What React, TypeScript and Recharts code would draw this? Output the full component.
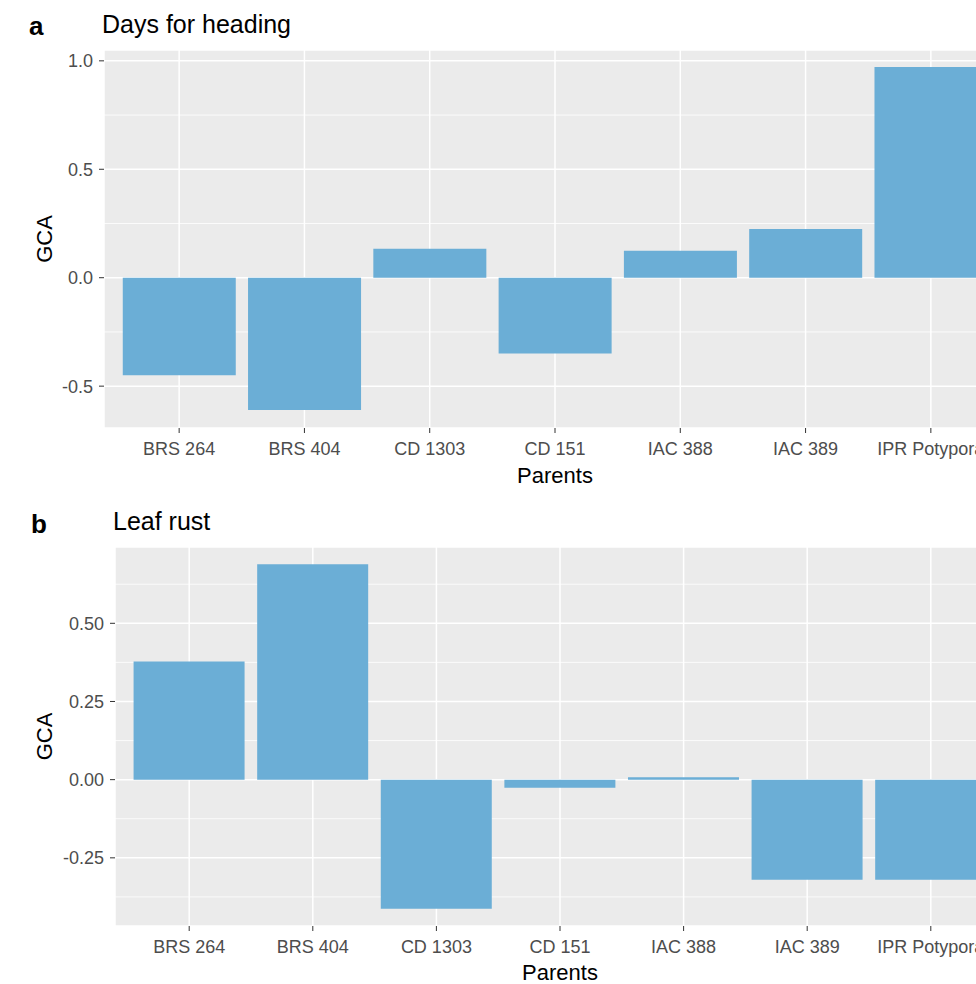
import { Bar, BarChart, CartesianGrid, XAxis, YAxis } from "recharts";

const parents = ["BRS 264", "BRS 404", "CD 1303", "CD 151", "IAC 388", "IAC 389", "IPR Potyporã"];
const headingGca = [-0.45, -0.61, 0.133, -0.349, 0.124, 0.225, 0.972];
const leafRustGca = [0.378, 0.689, -0.413, -0.026, 0.008, -0.32, -0.32];

const headingTicks = [-0.5, 0, 0.5, 1.0];
const headingMinor = [-0.25, 0.25, 0.75];
const headingDomain = [-0.693, 1.05];

const leafTicks = [-0.25, 0, 0.25, 0.5];
const leafMinor = [-0.375, -0.125, 0.125, 0.375, 0.625];
const leafDomain = [-0.468, 0.744];

const FONT = "'Liberation Sans', Arial, sans-serif";
const BAR = "#6baed6";

type PanelProps = {
  top: number;
  width: number;
  height: number;
  yWidth: number;
  padding: number;
  values: number[];
  ticks: number[];
  minor: number[];
  domain: number[];
  digits: number;
};

function Panel({ top, width, height, yWidth, padding, values, ticks, minor, domain, digits }: PanelProps) {
  const data = parents.map((p, i) => ({ parent: p, gca: values[i] }));
  const tick = { fill: "#4d4d4d", fontSize: 18, fontFamily: FONT };
  return (
    <div style={{ position: "absolute", left: 0, top }}>
      <BarChart
        width={width}
        height={height}
        data={data}
        margin={{ top: 50, right: 4, left: 0, bottom: 0 }}
        barCategoryGap="5%"
      >
        <CartesianGrid fill="#ebebeb" stroke="#ffffff" strokeWidth={1.5} />
        <CartesianGrid vertical={false} horizontalValues={minor} stroke="#ffffff" strokeWidth={0.8} />
        <XAxis
          dataKey="parent"
          height={56}
          padding={{ left: padding, right: padding }}
          axisLine={false}
          tickLine={{ stroke: "#333333" }}
          tickSize={5}
          tickMargin={9}
          tick={tick}
          interval={0}
        />
        <YAxis
          width={yWidth}
          domain={domain}
          ticks={ticks}
          axisLine={false}
          tickLine={{ stroke: "#333333" }}
          tickSize={5}
          tickMargin={6}
          tick={tick}
          tickFormatter={(v: number) => v.toFixed(digits)}
        />
        <Bar dataKey="gca" fill={BAR} isAnimationActive={false} />
      </BarChart>
    </div>
  );
}

export default function App() {
  return (
    <div
      style={{
        position: "absolute",
        left: 0,
        top: 0,
        width: 976,
        height: 984,
        overflow: "hidden",
        background: "#ffffff",
        fontFamily: FONT,
      }}
    >
      <Panel
        top={0}
        width={1010}
        height={484}
        yWidth={104}
        padding={12.5}
        values={headingGca}
        ticks={headingTicks}
        minor={headingMinor}
        domain={headingDomain}
        digits={1}
      />
      <Panel
        top={497}
        width={1009}
        height={485}
        yWidth={115}
        padding={12.4}
        values={leafRustGca}
        ticks={leafTicks}
        minor={leafMinor}
        domain={leafDomain}
        digits={2}
      />
      <svg
        width={976}
        height={984}
        style={{ position: "absolute", left: 0, top: 0, pointerEvents: "none" }}
        fontFamily={FONT}
      >
        <text x={29} y={35} fontSize={26} fontWeight="bold" fill="#000">a</text>
        <text x={102} y={33} fontSize={25} fill="#000">Days for heading</text>
        <text x={51.5} y={239} fontSize={22} fill="#000" textAnchor="middle" transform="rotate(-90 51.5 239)">GCA</text>
        <text x={555} y={483} fontSize={22} fill="#000" textAnchor="middle">Parents</text>

        <text x={31} y={533} fontSize={26} fontWeight="bold" fill="#000">b</text>
        <text x={113} y={530} fontSize={25} fill="#000">Leaf rust</text>
        <text x={51.5} y={736.5} fontSize={22} fill="#000" textAnchor="middle" transform="rotate(-90 51.5 736.5)">GCA</text>
        <text x={560} y={980} fontSize={22} fill="#000" textAnchor="middle">Parents</text>
      </svg>
    </div>
  );
}
